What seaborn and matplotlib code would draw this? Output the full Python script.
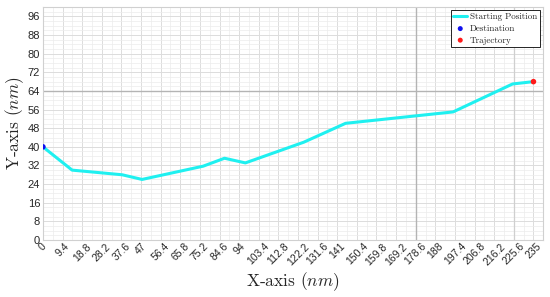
import matplotlib
matplotlib.use("Agg")
import matplotlib.pyplot as plt
import seaborn as sns
import pandas as pd
from matplotlib.ticker import MultipleLocator, FixedLocator

sns.set_style("white")
plt.rcParams['font.family'] = ['Liberation Sans', 'DejaVu Sans']
plt.rcParams['mathtext.fontset'] = 'cm'

# data
path_x = [0, 14, 38, 47.5, 76.8, 87, 97, 125, 145, 196.5, 225, 235]
path_y = [40, 30, 28, 26, 31.7, 35.1, 33.1, 42, 50.1, 55, 67, 68]
dest_x = [0]
dest_y = [40]
traj_x = [235]
traj_y = [68]
x_ticks = [0, 9.4, 18.8, 28.2, 37.6, 47, 56.4, 65.8, 75.2, 84.6, 94, 103.4, 112.8,
           122.2, 131.6, 141, 150.4, 159.8, 169.2, 178.6, 188, 197.4, 206.8, 216.2,
           225.6, 235]
x_tick_labels = ["0", "9.4", "18.8", "28.2", "37.6", "47", "56.4", "65.8", "75.2", "84.6",
                 "94", "103.4", "112.8", "122.2", "131.6", "141", "150.4", "159.8",
                 "169.2", "178.6", "188", "197.4", "206.8", "216.2", "225.6", "235"]
y_ticks = [0, 8, 16, 24, 32, 40, 48, 56, 64, 72, 80, 88, 96]

df = pd.DataFrame({"x": path_x, "y": path_y})

fig = plt.figure(figsize=(5.5, 2.97), dpi=100)
ax = fig.add_axes([0.078, 0.192, 0.909, 0.784])

ax.set_xlim(0, 239.5)
ax.set_ylim(0, 100)

ax.xaxis.set_major_locator(FixedLocator(x_ticks))
ax.xaxis.set_minor_locator(MultipleLocator(4.7))
ax.yaxis.set_major_locator(FixedLocator(y_ticks))
ax.yaxis.set_minor_locator(MultipleLocator(2))
ax.grid(which='major', color='#dcdcdc', linewidth=0.7)
ax.grid(which='minor', color='#ececec', linewidth=0.5)
ax.set_axisbelow(True)

ax.axvline(178.6, color='#b4b4b4', linewidth=1.0, zorder=1)
ax.axvline(225.6, color='#cfcfcf', linewidth=0.9, zorder=1)
ax.axhline(64, color='#b4b4b4', linewidth=1.0, zorder=1)

sns.lineplot(data=df, x="x", y="y", ax=ax, color='#1ff0f0', linewidth=2.2,
             sort=False, label='Starting Position', zorder=3)
sns.scatterplot(x=dest_x, y=dest_y, ax=ax, color='#1010ee', s=16, edgecolor='none',
                label='Destination', zorder=4)
sns.scatterplot(x=traj_x, y=traj_y, ax=ax, color='#ff1a1a', s=16, edgecolor='none',
                label='Trajectory', zorder=4)

ax.set_xticklabels(x_tick_labels, rotation=45, fontsize=7.5)
ax.tick_params(axis='y', labelsize=8, length=0, pad=2)
ax.tick_params(axis='x', length=0, pad=1)
ax.tick_params(which='minor', length=0)

ax.set_xlabel(r"X-axis ($nm$)", family='cmr10', fontsize=12.5, labelpad=2)
ax.set_ylabel(r"Y-axis ($nm$)", family='cmr10', fontsize=12.5, labelpad=1)

for s in ax.spines.values():
    s.set_color('#d0d0d0')
    s.set_linewidth(0.8)

leg = ax.legend(loc='upper right', prop={'family': 'cmr10', 'size': 6.5},
                frameon=True, fancybox=False, framealpha=1, edgecolor='black',
                borderpad=0.3, labelspacing=0.35, handlelength=1.5,
                handletextpad=0.3, borderaxespad=0.35, markerscale=0.9)
leg.get_frame().set_linewidth(0.6)

fig.savefig("out.png", dpi=100)
